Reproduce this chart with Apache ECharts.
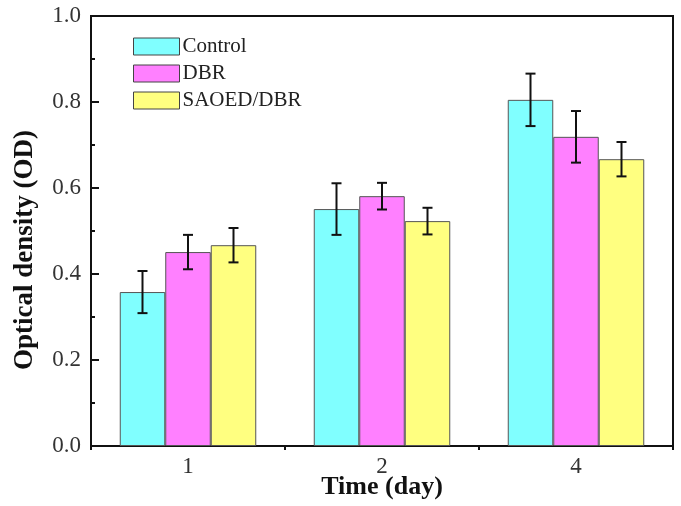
<!DOCTYPE html>
<html>
<head>
<meta charset="utf-8">
<script src="https://cdn.jsdelivr.net/npm/echarts@6/dist/echarts.min.js"></script>
<style>
  html, body { margin: 0; padding: 0; background: #fff; }
  #chart { width: 681px; height: 506px; }
</style>
</head>
<body>
<div id="chart"></div>
<script>
// 数据
const categories = ['1', '2', '4'];
const seriesNames = ['Control', 'DBR', 'SAOED/DBR'];
const controlVals = [0.358, 0.551, 0.805];
const controlErr = [0.049, 0.060, 0.061];
const dbrVals = [0.451, 0.581, 0.719];
const dbrErr = [0.040, 0.031, 0.060];
const saoedVals = [0.467, 0.523, 0.667];
const saoedErr = [0.040, 0.031, 0.040];
const yTicks = [0, 0.2, 0.4, 0.6, 0.8, 1.0];

const colors = ['#80FFFF', '#FF80FF', '#FFFF80'];
const font = '"Liberation Serif", "Times New Roman", serif';
const barW = 45.5;

const allVals = [controlVals, dbrVals, saoedVals];
const allErr = [controlErr, dbrErr, saoedErr];

const myChart = echarts.init(document.getElementById('chart'));

const barSeries = seriesNames.map((name, i) => ({
  name: name,
  type: 'bar',
  barWidth: barW,
  barGap: '0%',
  itemStyle: { color: colors[i], borderColor: '#555', borderWidth: 1 },
  data: allVals[i],
  z: 2,
}));

// 误差棒
const errSeries = seriesNames.map((name, i) => ({
  type: 'custom',
  silent: true,
  z: 5,
  data: allVals[i].map((v, k) => [k, v - allErr[i][k], v + allErr[i][k]]),
  encode: { x: 0, y: [1, 2] },
  renderItem(params, api) {
    const off = (i - 1) * barW;
    const lo = api.coord([api.value(0), api.value(1)]);
    const hi = api.coord([api.value(0), api.value(2)]);
    const x = lo[0] + off;
    const cap = 5;
    const style = { stroke: '#111', lineWidth: 2 };
    return {
      type: 'group',
      children: [
        { type: 'line', shape: { x1: x, y1: lo[1], x2: x, y2: hi[1] }, style },
        { type: 'line', shape: { x1: x - cap, y1: lo[1], x2: x + cap, y2: lo[1] }, style },
        { type: 'line', shape: { x1: x - cap, y1: hi[1], x2: x + cap, y2: hi[1] }, style },
      ],
    };
  },
}));

const option = {
  animation: false,
  backgroundColor: '#fff',
  grid: {
    left: 91, right: 8, top: 16, bottom: 60,
    outerBoundsMode: 'none',
    containLabel: false,
    show: true, borderColor: '#111', borderWidth: 2, backgroundColor: 'transparent',
  },
  legend: {
    data: seriesNames,
    orient: 'vertical',
    left: 128,
    top: 31,
    itemWidth: 46,
    itemHeight: 17,
    itemGap: 6,
    icon: 'rect',
    selectedMode: false,
    itemStyle: { borderColor: '#444', borderWidth: 1 },
    textStyle: { fontFamily: font, fontSize: 21, color: '#222', padding: [0, 0, 0, -2] },
  },
  xAxis: [
    {
      type: 'category',
      data: categories,
      name: 'Time (day)',
      nameLocation: 'middle',
      nameGap: 28,
      nameMoveOverlap: false,
      nameTextStyle: { fontFamily: font, fontSize: 26, fontWeight: 'bold', color: '#111' },
      axisLine: { lineStyle: { color: '#111', width: 2 } },
      axisTick: { alignWithLabel: true, length: 7, lineStyle: { color: '#111', width: 2 } },
      axisLabel: { fontFamily: font, fontSize: 23, color: '#333', margin: 9 },
    },
    {
      // 类别边界的小刻度
      type: 'category',
      data: categories,
      position: 'bottom',
      axisLine: { show: true, lineStyle: { color: '#111', width: 2 } },
      axisTick: { show: true, length: 4, lineStyle: { color: '#111', width: 2 } },
      axisLabel: { show: false },
    },
  ],
  yAxis: {
    type: 'value',
    min: 0,
    max: 1,
    interval: 0.2,
    axisLine: { show: true, lineStyle: { color: '#111', width: 2 } },
    axisTick: { show: true, inside: true, length: 8, lineStyle: { color: '#111', width: 2 } },
    minorTick: { show: true, splitNumber: 2, length: 4, lineStyle: { color: '#111', width: 2 } },
    splitLine: { show: false },
    axisLabel: {
      fontFamily: font, fontSize: 23, color: '#333', margin: 10,
      formatter: v => (yTicks.includes(v) ? v.toFixed(1) : ''),
    },
  },
  graphic: [
    {
      type: 'text',
      x: 25,
      y: 250,
      rotation: Math.PI / 2,
      style: {
        text: 'Optical density (OD)',
        font: 'bold 27px ' + font,
        fill: '#111',
        align: 'center',
        verticalAlign: 'middle',
      },
    },
  ],
  series: barSeries.concat(errSeries),
};

myChart.setOption(option);
</script>
</body>
</html>
